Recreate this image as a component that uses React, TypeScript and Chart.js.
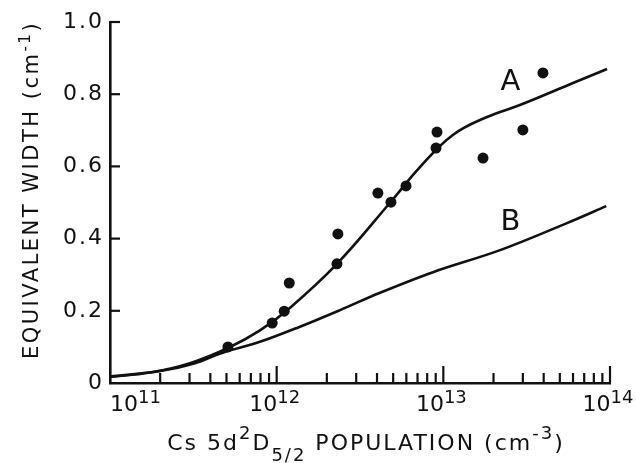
import React, { useEffect, useRef } from 'react';
import { Chart, registerables } from 'chart.js';

Chart.register(...registerables);

// ---- data ----
const measuredPopulation = [5.1e11, 9.4e11, 1.11e12, 1.19e12, 2.3e12, 2.33e12, 4.05e12, 4.85e12, 5.97e12, 9.04e12, 9.16e12, 1.73e13, 3.0e13, 3.96e13];
const measuredWidth = [0.1, 0.166, 0.199, 0.277, 0.33, 0.413, 0.526, 0.501, 0.546, 0.651, 0.695, 0.623, 0.701, 0.859];

const curveAPopulation = [1e11, 1.74e11, 3.02e11, 5.1e11, 7.94e11, 1.2e12, 2.3e12, 4.8e12, 7.24e12, 1.14e13, 1.83e13, 2.88e13, 6.0e13, 9.6e13];
const curveAWidth = [0.017, 0.029, 0.055, 0.097, 0.146, 0.208, 0.33, 0.5, 0.598, 0.687, 0.737, 0.77, 0.831, 0.87];

const curveBPopulation = [1e11, 2.0e11, 3.24e11, 4.6e11, 7.94e11, 1.38e12, 2.4e12, 4.17e12, 8.67e12, 2.19e13, 5.52e13, 9.5e13];
const curveBWidth = [0.018, 0.033, 0.055, 0.082, 0.114, 0.156, 0.202, 0.25, 0.307, 0.368, 0.443, 0.49];

const curveNames = ['A', 'B'];
const curveNameX = [2.53e13, 2.53e13];
const curveNameY = [0.832, 0.445];

const yTickValues = [0, 0.2, 0.4, 0.6, 0.8, 1.0];
const yTickLabels = ['0', '0.2', '0.4', '0.6', '0.8', '1.0'];
const xTickValues = [1e11, 1e12, 1e13, 1e14];
const xTickBase = ['10', '10', '10', '10'];
const xTickExponents = ['11', '12', '13', '14'];

const yTitle = 'EQUIVALENT WIDTH (cm';
const yTitleSup = '-1';
// x title pieces: [text, kind] kind: n = normal, sup, sub
const xTitleParts: [string, string][] = [
  ['Cs 5d', 'n'],
  ['2', 'sup'],
  ['D', 'n'],
  ['5/2', 'sub'],
  [' POPULATION (cm', 'n'],
  ['-3', 'sup'],
  [')', 'n'],
];

const INK = '#111111';
const FONT = 'DejaVu Sans';

const decorPlugin = {
  id: 'decor',
  beforeDraw(chart: any) {
    const ctx = chart.ctx;
    ctx.save();
    ctx.fillStyle = '#ffffff';
    ctx.fillRect(0, 0, chart.width, chart.height);
    ctx.restore();
    ctx.letterSpacing = '2px';
  },
  afterDraw(chart: any) {
    const ctx = chart.ctx;
    const { left, right, bottom } = chart.chartArea;
    const xs = chart.scales.x;
    const ys = chart.scales.y;
    ctx.save();
    ctx.letterSpacing = '0px';
    ctx.strokeStyle = INK;
    ctx.fillStyle = INK;
    ctx.lineWidth = 2.2;
    ctx.lineCap = 'butt';

    // inward y ticks
    for (const v of yTickValues) {
      if (v === 0) continue;
      const py = ys.getPixelForValue(v);
      ctx.beginPath();
      ctx.moveTo(left, py);
      ctx.lineTo(left + 10, py);
      ctx.stroke();
    }
    // inward x ticks (major + minor)
    for (let e = 11; e <= 14; e++) {
      for (let m = 1; m <= 9; m++) {
        if (e === 14 && m > 1) break;
        if (e === 11 && m === 1) continue;
        const px = xs.getPixelForValue(m * Math.pow(10, e));
        const len = m === 1 ? 17 : 10;
        ctx.beginPath();
        ctx.moveTo(px, bottom);
        ctx.lineTo(px, bottom - len);
        ctx.stroke();
      }
    }

    // x tick labels with superscripts
    ctx.textBaseline = 'alphabetic';
    ctx.textAlign = 'left';
    xTickValues.forEach((v, i) => {
      const px = xs.getPixelForValue(v);
      ctx.font = `22px "${FONT}"`;
      const wb = ctx.measureText(xTickBase[i]).width;
      ctx.font = `18px "${FONT}"`;
      const we = ctx.measureText(xTickExponents[i]).width;
      const total = wb + we;
      const x0 = i === 0 ? px : px - 2 - total / 2;
      ctx.font = `22px "${FONT}"`;
      ctx.fillText(xTickBase[i], x0, bottom + 28);
      ctx.font = `18px "${FONT}"`;
      ctx.fillText(xTickExponents[i], x0 + wb, bottom + 20);
    });

    // x title
    ctx.letterSpacing = '2px';
    const fontFor = (k: string) => (k === 'n' ? `22px "${FONT}"` : `18px "${FONT}"`);
    const dyFor = (k: string) => (k === 'sup' ? -11 : k === 'sub' ? 11 : 0);
    let totalW = 0;
    for (const [t, k] of xTitleParts) {
      ctx.font = fontFor(k);
      totalW += ctx.measureText(t).width;
    }
    let cx = (left + right) / 2 + 6 - totalW / 2;
    const baseY = bottom + 67;
    for (const [t, k] of xTitleParts) {
      ctx.font = fontFor(k);
      ctx.fillText(t, cx, baseY + dyFor(k));
      cx += ctx.measureText(t).width;
    }

    // y title (rotated)
    ctx.save();
    ctx.translate(30, 190);
    ctx.rotate(-Math.PI / 2);
    ctx.letterSpacing = '2.5px';
    ctx.font = `21px "${FONT}"`;
    const w1 = ctx.measureText(yTitle).width;
    ctx.font = `15px "${FONT}"`;
    const w2 = ctx.measureText(yTitleSup).width;
    ctx.font = `21px "${FONT}"`;
    const w3 = ctx.measureText(')').width;
    let tx = -(w1 + w2 + w3) / 2;
    ctx.fillText(yTitle, tx, 7.5);
    tx += w1;
    ctx.font = `15px "${FONT}"`;
    ctx.fillText(yTitleSup, tx, 0);
    tx += w2;
    ctx.font = `21px "${FONT}"`;
    ctx.fillText(')', tx, 7.5);
    ctx.restore();

    // curve names
    ctx.letterSpacing = '0px';
    ctx.font = `29px "${FONT}"`;
    ctx.textAlign = 'center';
    ctx.textBaseline = 'middle';
    curveNames.forEach((n, i) => {
      ctx.fillText(n, xs.getPixelForValue(curveNameX[i]), ys.getPixelForValue(curveNameY[i]));
    });
    ctx.restore();
  },
};

export default function App() {
  const ref = useRef<HTMLCanvasElement>(null);
  useEffect(() => {
    document.body.style.margin = '0';
    const toXY = (xs: number[], ys: number[]) => xs.map((x, i) => ({ x, y: ys[i] }));
    const chart = new Chart(ref.current as HTMLCanvasElement, {
      type: 'scatter',
      data: {
        datasets: [
          {
            label: 'A',
            data: toXY(curveAPopulation, curveAWidth),
            showLine: true,
            borderColor: INK,
            borderWidth: 2.6,
            pointRadius: 0,
            tension: 0.4,
            fill: false,
          },
          {
            label: 'B',
            data: toXY(curveBPopulation, curveBWidth),
            showLine: true,
            borderColor: INK,
            borderWidth: 2.6,
            pointRadius: 0,
            tension: 0.35,
            fill: false,
          },
          {
            label: 'measured',
            data: toXY(measuredPopulation, measuredWidth),
            showLine: false,
            pointRadius: 5.5,
            pointBackgroundColor: INK,
            pointBorderColor: INK,
            pointBorderWidth: 0,
          },
        ],
      } as any,
      options: {
        animation: false,
        responsive: true,
        maintainAspectRatio: false,
        layout: { padding: { left: 0, top: 22, right: 26, bottom: 0 } },
        plugins: { legend: { display: false }, tooltip: { enabled: false } },
        scales: {
          x: {
            type: 'logarithmic',
            min: 1e11,
            max: 1e14,
            grid: { display: false, drawTicks: false },
            border: { display: true, color: INK, width: 2.6 },
            ticks: { display: false },
            afterFit: (s: any) => {
              s.height = 80;
            },
          },
          y: {
            type: 'linear',
            min: 0,
            max: 1,
            grid: { display: false, drawTicks: false },
            border: { display: true, color: INK, width: 2.6 },
            afterBuildTicks: (s: any) => {
              s.ticks = yTickValues.map((v) => ({ value: v }));
            },
            ticks: {
              color: INK,
              padding: 6,
              font: { family: FONT, size: 22 },
              callback: (v: any) => {
                const i = yTickValues.findIndex((t) => Math.abs(t - v) < 1e-9);
                return i >= 0 ? yTickLabels[i] : '';
              },
            },
            afterFit: (s: any) => {
              s.width = 110;
            },
          },
        },
      } as any,
      plugins: [decorPlugin],
    });
    return () => chart.destroy();
  }, []);
  return (
    <div style={{ width: 636, height: 463, position: 'relative', background: '#fff' }}>
      <canvas ref={ref} />
    </div>
  );
}
